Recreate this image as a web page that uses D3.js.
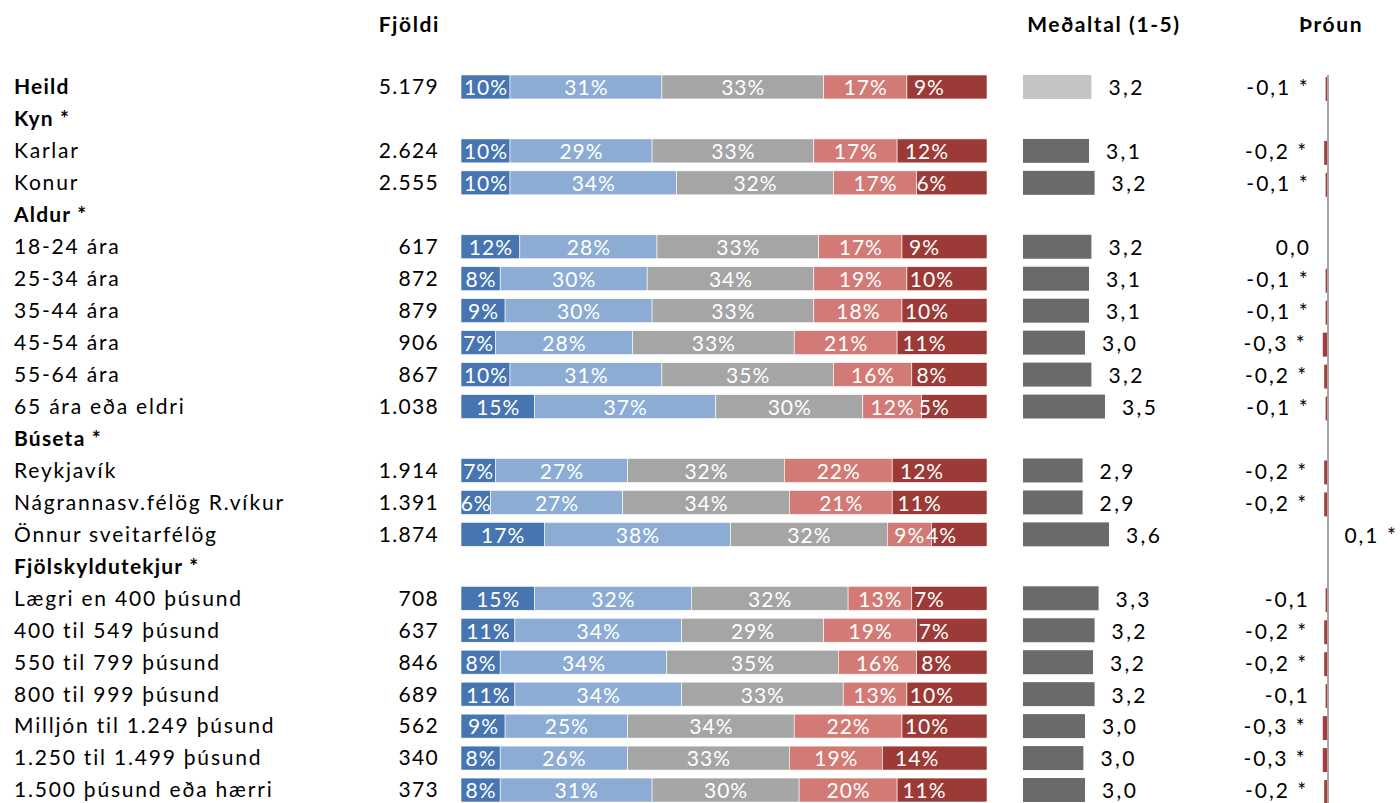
<!DOCTYPE html>
<html>
<head>
<meta charset="utf-8">
<script src="https://cdn.jsdelivr.net/npm/d3@7"></script>
<style>
  body { margin: 0; background: #fff; }
  text { font-family: Lato, "Open Sans", sans-serif; }
</style>
</head>
<body>
<div id="chart"></div>
<script>
// row labels, group headers have no data (null)
const rowLabels = ["Heild", "Kyn *", "Karlar", "Konur", "Aldur *", "18-24 ára", "25-34 ára", "35-44 ára",
    "45-54 ára", "55-64 ára", "65 ára eða eldri", "Búseta *", "Reykjavík", "Nágrannasv.félög R.víkur",
    "Önnur sveitarfélög", "Fjölskyldutekjur *", "Lægri en 400 þúsund", "400 til 549 þúsund",
    "550 til 799 þúsund", "800 til 999 þúsund", "Milljón til 1.249 þúsund", "1.250 til 1.499 þúsund",
    "1.500 þúsund eða hærri"];
const boldRows = ["Heild", "Kyn *", "Aldur *", "Búseta *", "Fjölskyldutekjur *"];

const counts = [5179, null, 2624, 2555, null, 617, 872, 879, 906, 867, 1038, null, 1914, 1391, 1874,
    null, 708, 637, 846, 689, 562, 340, 373];

// shares (%) for the five answer groups, left to right
const p1 = [10, null, 10, 10, null, 12, 8, 9, 7, 10, 15, null, 7, 6, 17, null, 15, 11, 8, 11, 9, 8, 8];
const p2 = [31, null, 29, 34, null, 28, 30, 30, 28, 31, 37, null, 27, 27, 38, null, 32, 34, 34, 34, 25, 26, 31];
const p3 = [33, null, 33, 32, null, 33, 34, 33, 33, 35, 30, null, 32, 34, 32, null, 32, 29, 35, 33, 34, 33, 30];
const p4 = [17, null, 17, 17, null, 17, 19, 18, 21, 16, 12, null, 22, 21, 9, null, 13, 19, 16, 13, 22, 19, 20];
const p5 = [9, null, 12, 6, null, 9, 10, 10, 11, 8, 5, null, 12, 11, 4, null, 7, 7, 8, 10, 10, 14, 11];

// mean (1-5)
const means = [3.16, null, 3.10, 3.24, null, 3.16, 3.10, 3.10, 3.00, 3.16, 3.50, null, 2.94, 2.94, 3.60,
    null, 3.34, 3.24, 3.20, 3.24, 3.00, 2.96, 3.00];

// change since last measurement, and whether significant
const trend = [-0.1, null, -0.2, -0.1, null, 0.0, -0.1, -0.1, -0.3, -0.2, -0.1, null, -0.2, -0.2, 0.1,
    null, -0.1, -0.2, -0.2, -0.1, -0.3, -0.3, -0.2];
const trendSig = [true, null, true, true, null, false, true, true, true, true, true, null, true, true, true,
    null, false, true, true, false, true, true, true];

const headers = ["Fjöldi", "Meðaltal (1-5)", "Þróun"];
const segColors = ["#4675b2", "#8cacd4", "#a5a5a5", "#d27a76", "#9b3a36"];

const width = 1400, height = 803;
const locale = d3.formatLocale({decimal: ",", thousands: ".", grouping: [3], currency: ["", ""], minus: "-"});
const fmtCount = locale.format(",d");
const fmt1 = locale.format(".1f");

const svg = d3.select("#chart").append("svg")
    .attr("width", width)
    .attr("height", height);

const y = d3.scaleBand()
    .domain(d3.range(rowLabels.length))
    .range([71, 806])
    .paddingInner(0.25)
    .paddingOuter(0.125);
const yc = i => y(i) + y.bandwidth() / 2;

// stacked bar scale; the last segment runs on to the plot edge
const barRight = 987;
const x = d3.scaleLinear().domain([0, 100]).range([461, 951]);

const meanX = d3.scaleLinear().domain([1.45, 5]).range([1023, 1023 + 3.55 * 40]);
const trendX = d3.scaleLinear().domain([-1, 1]).range([1327 - 14, 1327 + 14]);

const rows = rowLabels.map((label, i) => ({
    i, label, count: counts[i],
    shares: p1[i] == null ? null : [p1[i], p2[i], p3[i], p4[i], p5[i]],
    mean: means[i], trend: trend[i], sig: trendSig[i]
}));
const dataRows = rows.filter(d => d.shares);

// headers
svg.append("g").selectAll("text")
    .data(headers)
    .enter().append("text")
    .attr("x", (d, i) => [440, 1104, 1331][i])
    .attr("y", 25)
    .attr("dy", "0.35em")
    .style("text-anchor", (d, i) => i == 0 ? "end" : "middle")
    .style("font-size", "21px")
    .style("letter-spacing", "1.6px")
    .style("font-weight", "bold")
    .text(d => d);

// row labels
svg.append("g").selectAll("text")
    .data(rows)
    .enter().append("text")
    .attr("x", 14)
    .attr("y", d => yc(d.i))
    .attr("dy", "0.35em")
    .style("font-size", "21px")
    .style("letter-spacing", d => boldRows.includes(d.label) ? "1.2px" : "1.8px")
    .style("font-weight", d => boldRows.includes(d.label) ? "bold" : null)
    .text(d => d.label);

// counts
svg.append("g").selectAll("text")
    .data(dataRows)
    .enter().append("text")
    .attr("x", 439)
    .attr("y", d => yc(d.i))
    .attr("dy", "0.35em")
    .style("text-anchor", "end")
    .style("font-size", "21px")
    .style("letter-spacing", "1.3px")
    .text(d => fmtCount(d.count));

// stacked bars
const segs = dataRows.flatMap(d => {
    let cum = 0;
    return d.shares.map((v, k) => {
        const s = {i: d.i, k, v, x0: cum, x1: cum + v};
        cum += v;
        return s;
    });
});

const gBars = svg.append("g");
gBars.selectAll("rect")
    .data(segs)
    .enter().append("rect")
    .attr("x", d => x(d.x0))
    .attr("y", d => y(d.i))
    .attr("width", d => (d.k == 4 ? barRight : x(d.x1)) - x(d.x0))
    .attr("height", y.bandwidth())
    .style("fill", d => segColors[d.k])
    .style("stroke", "#fff")
    .style("stroke-width", 0.6);

gBars.selectAll("text")
    .data(segs)
    .enter().append("text")
    .attr("x", d => x((d.x0 + d.x1) / 2) + 0.5)
    .attr("y", d => yc(d.i) + 1)
    .attr("dy", "0.35em")
    .style("text-anchor", "middle")
    .style("font-size", "21px")
    .style("letter-spacing", "1px")
    .style("fill", "#fff")
    .text(d => d.v + "%");

// mean bars
const gMean = svg.append("g");
gMean.selectAll("rect")
    .data(dataRows)
    .enter().append("rect")
    .attr("x", meanX(1.45))
    .attr("y", d => y(d.i))
    .attr("width", d => meanX(d.mean) - meanX(1.45))
    .attr("height", y.bandwidth())
    .style("fill", d => d.i == 0 ? "#c4c4c4" : "#6a6a6a");

gMean.selectAll("text")
    .data(dataRows)
    .enter().append("text")
    .attr("x", d => meanX(d.mean) + 17)
    .attr("y", d => yc(d.i) + 1)
    .attr("dy", "0.35em")
    .style("font-size", "21px")
    .style("letter-spacing", "2.4px")
    .text(d => fmt1(d.mean));

// trend bars
const gTrend = svg.append("g");
gTrend.selectAll("rect")
    .data(dataRows)
    .enter().append("rect")
    .attr("x", d => trendX(Math.min(0, d.trend)))
    .attr("y", d => y(d.i) + 2)
    .attr("width", d => Math.abs(trendX(d.trend) - trendX(0)))
    .attr("height", y.bandwidth())
    .style("fill", d => d.trend < 0 ? "#a63c3a" : "#4a6f99");

gTrend.append("line")
    .attr("x1", trendX(0) + 1)
    .attr("x2", trendX(0) + 1)
    .attr("y1", y(0))
    .attr("y2", height)
    .style("stroke", "#a6a6a6")
    .style("stroke-width", 2);

gTrend.selectAll("text")
    .data(dataRows)
    .enter().append("text")
    .attr("x", d => d.trend > 0 ? trendX(d.trend) + 16 : trendX(Math.min(0, d.trend)) - 16)
    .attr("y", d => yc(d.i) + 1)
    .attr("dy", "0.35em")
    .style("text-anchor", d => d.trend > 0 ? "start" : "end")
    .style("font-size", "21px")
    .style("letter-spacing", "2px")
    .text(d => fmt1(d.trend) + (d.sig ? " *" : ""));
</script>
</body>
</html>
